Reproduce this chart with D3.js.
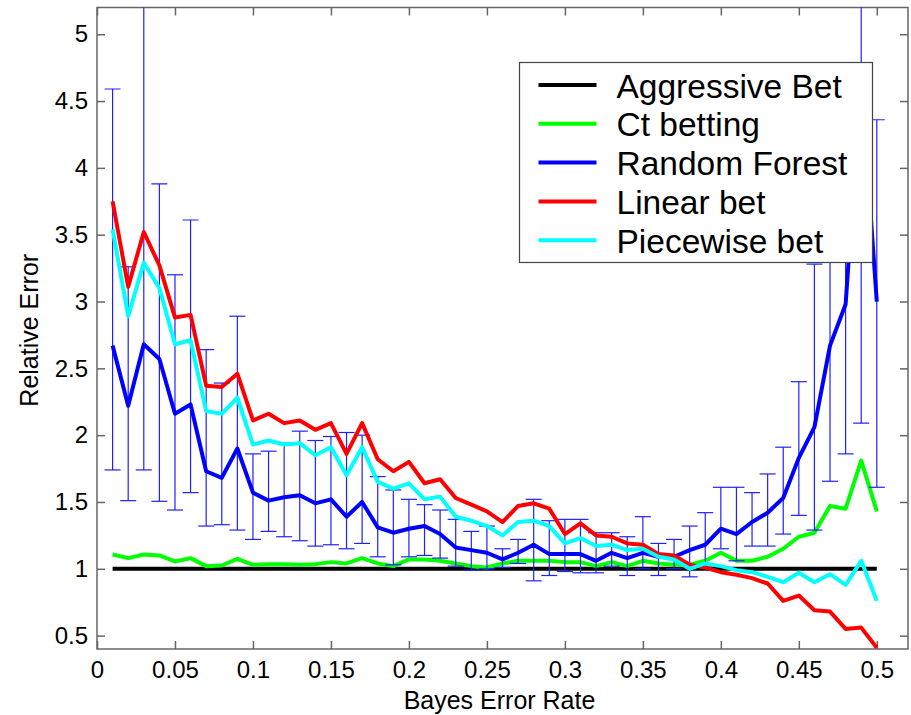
<!DOCTYPE html>
<html>
<head>
<meta charset="utf-8">
<script src="https://cdn.jsdelivr.net/npm/d3@7"></script>
<style>
  body { margin: 0; background: #fff; }
  svg { display: block; font-family: "Liberation Sans", Arial, sans-serif; }
</style>
</head>
<body>
<svg id="chart" width="911" height="715"></svg>
<script>
// Bayes error rate on the x axis
const bayes = [0.01, 0.02, 0.03, 0.04, 0.05, 0.06, 0.07, 0.08, 0.09, 0.10,
  0.11, 0.12, 0.13, 0.14, 0.15, 0.16, 0.17, 0.18, 0.19, 0.20,
  0.21, 0.22, 0.23, 0.24, 0.25, 0.26, 0.27, 0.28, 0.29, 0.30,
  0.31, 0.32, 0.33, 0.34, 0.35, 0.36, 0.37, 0.38, 0.39, 0.40,
  0.41, 0.42, 0.43, 0.44, 0.45, 0.46, 0.47, 0.48, 0.49, 0.50]

const aggressive = [1, 1, 1, 1, 1, 1, 1, 1, 1, 1,
  1, 1, 1, 1, 1, 1, 1, 1, 1, 1,
  1, 1, 1, 1, 1, 1, 1, 1, 1, 1,
  1, 1, 1, 1, 1, 1, 1, 1, 1, 1,
  1, 1, 1, 1, 1, 1, 1, 1, 1, 1]

const ctBetting = [1.107, 1.08, 1.107, 1.10, 1.055, 1.08, 1.02, 1.025, 1.075, 1.03,
  1.035, 1.035, 1.03, 1.035, 1.05, 1.04, 1.08, 1.04, 1.02, 1.07,
  1.07, 1.06, 1.04, 1.02, 1.01, 1.04, 1.06, 1.06, 1.06, 1.05,
  1.05, 1.02, 1.05, 1.02, 1.06, 1.04, 1.03, 1.03, 1.06, 1.12,
  1.06, 1.06, 1.09, 1.15, 1.24, 1.27, 1.47, 1.45, 1.81, 1.43]

const randomForest = [2.67, 2.22, 2.68, 2.57, 2.16, 2.23, 1.73, 1.68, 1.90, 1.57,
  1.51, 1.535, 1.55, 1.49, 1.52, 1.39, 1.50, 1.31, 1.27, 1.30,
  1.32, 1.26, 1.16, 1.14, 1.12, 1.07, 1.12, 1.18, 1.11, 1.11,
  1.11, 1.06, 1.12, 1.08, 1.12, 1.09, 1.09, 1.14, 1.18, 1.30,
  1.26, 1.35, 1.42, 1.53, 1.83, 2.06, 2.67, 2.98, 4.65, 3.00]

// error bar ends of the random forest curve
const rfUpper = [4.59, 3.26, 5.6, 3.88, 3.20, 3.61, 2.64, 2.39, 2.89, 1.86,
  1.88, 1.94, 2.03, 1.96, 1.99, 2.02, 2.00, 1.69, 1.59, 1.52,
  1.48, 1.44, 1.37, 1.28, 1.32, 1.15, 1.22, 1.52, 1.36, 1.37,
  1.37, 1.27, 1.27, 1.24, 1.39, 1.19, 1.22, 1.32, 1.42, 1.61,
  1.61, 1.57, 1.71, 1.91, 2.40, 3.28, 4.0, 4.5, 5.8, 4.36]

const rfLower = [1.74, 1.51, 1.74, 1.505, 1.44, 1.57, 1.32, 1.33, 1.29, 1.22,
  1.28, 1.24, 1.21, 1.17, 1.18, 1.15, 1.19, 1.09, 1.03, 1.09,
  1.10, 1.08, 1.02, 0.99, 1.00, 1.01, 1.04, 0.91, 0.95, 0.98,
  0.97, 0.97, 1.02, 0.95, 1.00, 0.95, 1.00, 0.94, 1.02, 1.15,
  1.06, 1.17, 1.17, 1.26, 1.40, 1.29, 1.655, 1.86, 2.09, 1.61]

const linearBet = [3.75, 3.11, 3.52, 3.27, 2.88, 2.90, 2.37, 2.36, 2.46, 2.11,
  2.16, 2.09, 2.11, 2.04, 2.09, 1.86, 2.09, 1.82, 1.73, 1.80,
  1.64, 1.67, 1.53, 1.48, 1.43, 1.35, 1.47, 1.49, 1.45, 1.26,
  1.34, 1.25, 1.24, 1.19, 1.18, 1.11, 1.10, 1.03, 1.01, 0.975,
  0.955, 0.93, 0.89, 0.76, 0.80, 0.69, 0.68, 0.55, 0.56, 0.41]

const piecewiseBet = [3.54, 2.89, 3.29, 3.10, 2.68, 2.71, 2.18, 2.16, 2.28, 1.93,
  1.96, 1.93, 1.94, 1.85, 1.91, 1.70, 1.91, 1.65, 1.60, 1.64,
  1.52, 1.54, 1.39, 1.36, 1.32, 1.25, 1.35, 1.36, 1.32, 1.19,
  1.23, 1.17, 1.18, 1.14, 1.15, 1.09, 1.07, 1.00, 1.04, 1.02,
  0.99, 0.975, 0.94, 0.90, 0.97, 0.90, 0.96, 0.88, 1.06, 0.76]

const seriesNames = ['Aggressive Bet', 'Ct betting', 'Random Forest', 'Linear bet', 'Piecewise bet']
const seriesValues = [aggressive, ctBetting, randomForest, linearBet, piecewiseBet]
const seriesColors = ['#000000', '#00ff00', '#0000ff', '#ff0000', '#00ffff']

const xTicks = [0, 0.05, 0.1, 0.15, 0.2, 0.25, 0.3, 0.35, 0.4, 0.45, 0.5]
const yTicks = [0.5, 1, 1.5, 2, 2.5, 3, 3.5, 4, 4.5, 5]

const margin = { top: 7.5, right: 3, bottom: 66, left: 97 }
const svg = d3.select('#chart')
const width = +svg.attr('width') - margin.left - margin.right
const height = +svg.attr('height') - margin.top - margin.bottom
const g = svg.append('g').attr('transform', `translate(${margin.left},${margin.top})`)

const x = d3.scaleLinear().domain([0, 0.52]).range([0, width])
const y = d3.scaleLinear().domain([0.4, 5.2]).range([height, 0])

const axisColor = '#666'
const fmt = d => String(d)

// axes, ticks pointing inward on all four sides
const styleAxis = (sel, labels) => {
  sel.select('.domain').remove()
  sel.selectAll('.tick line').attr('stroke', axisColor).attr('stroke-width', 1.5)
  sel.selectAll('.tick text')
    .attr('fill', '#000')
    .style('font-size', '24px')
    .style('display', labels ? null : 'none')
}

g.append('g')
  .attr('transform', `translate(0,${height})`)
  .call(d3.axisBottom(x).tickValues(xTicks).tickFormat(fmt).tickSize(-8).tickPadding(12))
  .call(sel => styleAxis(sel, true))
g.append('g')
  .call(d3.axisTop(x).tickValues(xTicks).tickSize(-8))
  .call(sel => styleAxis(sel, false))
g.append('g')
  .call(d3.axisLeft(y).tickValues(yTicks).tickFormat(fmt).tickSize(-8).tickPadding(9))
  .call(sel => styleAxis(sel, true))
g.append('g')
  .attr('transform', `translate(${width},0)`)
  .call(d3.axisRight(y).tickValues(yTicks).tickSize(-8))
  .call(sel => styleAxis(sel, false))

g.selectAll('.tick text').attr('font-family', null)

// frame
g.append('rect')
  .attr('width', width)
  .attr('height', height)
  .attr('fill', 'none')
  .attr('stroke', axisColor)
  .attr('stroke-width', 1.5)

// axis titles
svg.append('text')
  .attr('x', margin.left + width / 2 - 3)
  .attr('y', 709)
  .attr('text-anchor', 'middle')
  .style('font-size', '25px')
  .text('Bayes Error Rate')

svg.append('text')
  .attr('transform', `translate(38,${margin.top + height / 2 + 2}) rotate(-90)`)
  .attr('text-anchor', 'middle')
  .style('font-size', '25px')
  .text('Relative Error')

// clip lines to the plot box
g.append('clipPath').attr('id', 'plotClip')
  .append('rect').attr('width', width).attr('height', height)

const plot = g.append('g').attr('clip-path', 'url(#plotClip)')

const line = d3.line()
  .x((d, i) => x(bayes[i]))
  .y(d => y(d))

const drawSeries = (k) => {
  plot.append('path')
    .datum(seriesValues[k])
    .attr('fill', 'none')
    .attr('stroke', seriesColors[k])
    .attr('stroke-width', 4)
    .attr('stroke-linejoin', 'round')
    .attr('d', line)
}

drawSeries(0)
drawSeries(1)

// error bars for the random forest
const bars = plot.append('g')
  .attr('stroke', '#2020ff')
  .attr('stroke-width', 1.2)
  .selectAll('g')
  .data(bayes)
  .enter()
  .append('g')

bars.append('line')
  .attr('x1', d => x(d)).attr('x2', d => x(d))
  .attr('y1', (d, i) => y(rfUpper[i]))
  .attr('y2', (d, i) => y(rfLower[i]))
bars.append('line')
  .attr('x1', d => x(d) - 8).attr('x2', d => x(d) + 8)
  .attr('y1', (d, i) => y(rfUpper[i]))
  .attr('y2', (d, i) => y(rfUpper[i]))
bars.append('line')
  .attr('x1', d => x(d) - 8).attr('x2', d => x(d) + 8)
  .attr('y1', (d, i) => y(rfLower[i]))
  .attr('y2', (d, i) => y(rfLower[i]))

drawSeries(2)
drawSeries(3)
drawSeries(4)

// legend
const legend = svg.append('g').attr('transform', 'translate(519.5,62.5)')
legend.append('rect')
  .attr('width', 353)
  .attr('height', 200)
  .attr('fill', '#fff')
  .attr('stroke', '#444')
  .attr('stroke-width', 1.2)

const rows = legend.selectAll('.row')
  .data(seriesNames)
  .enter()
  .append('g')
  .attr('class', 'row')
  .attr('transform', (d, i) => `translate(0,${22.5 + i * 38.8})`)

rows.append('line')
  .attr('x1', 19).attr('x2', 77)
  .attr('stroke', (d, i) => seriesColors[i])
  .attr('stroke-width', 4)
rows.append('text')
  .attr('x', 97)
  .attr('y', 12.5)
  .style('font-size', '33.5px')
  .text(d => d)
</script>
</body>
</html>
